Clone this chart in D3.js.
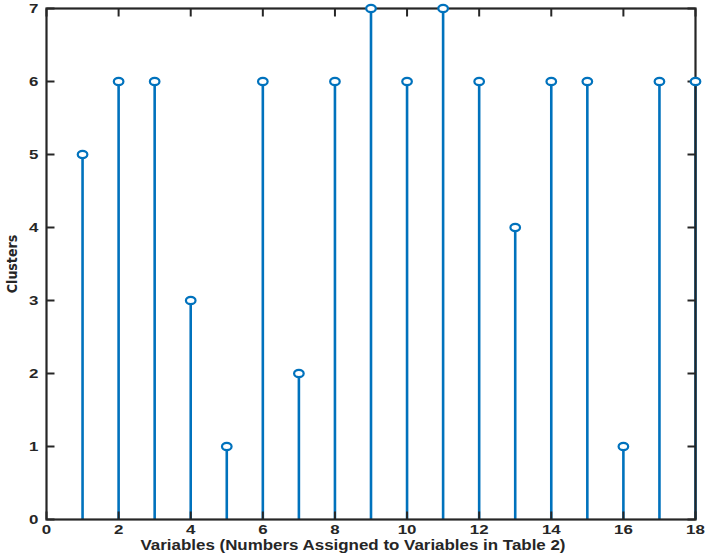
<!DOCTYPE html>
<html><head><meta charset="utf-8">
<script src="https://cdn.jsdelivr.net/npm/d3@7"></script>
<style>body{margin:0;background:#fff;}text{font-family:"Liberation Sans",Arial,sans-serif;font-weight:bold;fill:#262626;}</style>
</head><body>
<svg id="c" width="708" height="556"></svg>
<script>
const variables = [1,2,3,4,5,6,7,8,9,10,11,12,13,14,15,16,17,18];
const clusters = [5,6,6,3,1,6,2,6,7,6,7,6,4,6,6,1,6,6];
const xTicks = [0,2,4,6,8,10,12,14,16,18];
const yTicks = [0,1,2,3,4,5,6,7];
const xLabel = "Variables (Numbers Assigned to Variables in Table 2)";
const yLabel = "Clusters";

const svg = d3.select("#c");
const L=46.5, R=695.5, T=8.5, B=519.5;
const x = d3.scaleLinear().domain([0,18]).range([L,R]);
const y = d3.scaleLinear().domain([0,7]).range([B,T]);
const ax = "#262626";
const tl = 8;

// stems
const g = svg.append("g");
g.selectAll("line.stem").data(variables).enter().append("line")
  .attr("x1",d=>x(d)).attr("x2",d=>x(d))
  .attr("y1",y(0)).attr("y2",(d,i)=>y(clusters[i]))
  .attr("stroke","#0072BD").attr("stroke-width",2.6);

// axes box
const axes = svg.append("g");
axes.append("rect").attr("x",L).attr("y",T).attr("width",R-L).attr("height",B-T)
  .attr("fill","none").attr("stroke",ax).attr("stroke-width",2.2);
xTicks.forEach(t=>{
  axes.append("line").attr("x1",x(t)).attr("x2",x(t)).attr("y1",B).attr("y2",B-tl).attr("stroke",ax).attr("stroke-width",2);
  axes.append("line").attr("x1",x(t)).attr("x2",x(t)).attr("y1",T).attr("y2",T+tl).attr("stroke",ax).attr("stroke-width",2);
  axes.append("text").attr("transform",`translate(${x(t)},${B+14.5}) scale(1.3,1)`).attr("text-anchor","middle").attr("font-size",13).text(t);
});
yTicks.forEach(t=>{
  axes.append("line").attr("x1",L).attr("x2",L+tl).attr("y1",y(t)).attr("y2",y(t)).attr("stroke",ax).attr("stroke-width",2);
  axes.append("line").attr("x1",R).attr("x2",R-tl).attr("y1",y(t)).attr("y2",y(t)).attr("stroke",ax).attr("stroke-width",2);
  axes.append("text").attr("transform",`translate(${L-8},${y(t)+4.5}) scale(1.3,1)`).attr("text-anchor","end").attr("font-size",13).text(t);
});

// markers
svg.append("g").selectAll("ellipse").data(variables).enter().append("ellipse")
  .attr("cx",d=>x(d)).attr("cy",(d,i)=>y(clusters[i]))
  .attr("rx",4.8).attr("ry",3.6)
  .attr("fill","#fff").attr("stroke","#0072BD").attr("stroke-width",2.2);

svg.append("text").attr("x",(L+R)/2 - 18).attr("y",550).attr("text-anchor","middle").attr("font-size",14)
  .attr("textLength",425).attr("lengthAdjust","spacingAndGlyphs").text(xLabel);
svg.append("text").attr("transform",`translate(17,${(T+B)/2}) rotate(-90)`).attr("text-anchor","middle").attr("font-size",14).attr("font-weight","normal").style("font-family","'Liberation Sans Narrow','DejaVu Sans Condensed',sans-serif").text(yLabel);
</script>
</body></html>
